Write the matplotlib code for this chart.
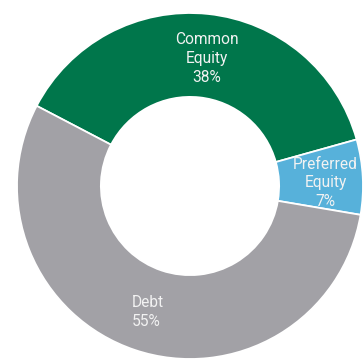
import matplotlib
matplotlib.use("Agg")
import matplotlib.pyplot as plt
import numpy as np

categories = ["Common\nEquity", "Preferred\nEquity", "Debt"]
values = [38, 7, 55]
colors = ["#00764B", "#57B1DA", "#A2A1A6"]

plt.rcParams['font.family'] = ['Roboto', 'DejaVu Sans']

fig = plt.figure(figsize=(3.64, 3.60), dpi=100)
ax = fig.add_axes([0, 0, 1, 1])

width = 0.485
wedges, _ = ax.pie(values, colors=colors, startangle=152.4, counterclock=False,
                   radius=1.0, wedgeprops=dict(width=width, edgecolor='white', linewidth=1.3))

R_px = 173.0
cx, cy = 190.0, 186.0
ax.set_xlim(-cx / R_px, (364 - cx) / R_px)
ax.set_ylim(-(360 - cy) / R_px, cy / R_px)
ax.set_aspect('equal')
ax.axis('off')

total = sum(values)
label_r = [0.75, 0.81, 0.77]
label_off = [(0.02, -0.01), (-0.025, -0.025), (0.0, 0.0)]
for w, cat, v, r, (dx, dy) in zip(wedges, categories, values, label_r, label_off):
    ang = np.deg2rad((w.theta1 + w.theta2) / 2)
    x, y = r * np.cos(ang) + dx, r * np.sin(ang) + dy
    ma = 'left' if cat == "Debt" else 'center'
    ax.text(x, y, f"{cat}\n{round(v / total * 100)}%", ha='center', va='center',
            multialignment=ma, color='#F2F2F2', fontsize=11.2, linespacing=1.32)

fig.savefig("out.png", dpi=100)
